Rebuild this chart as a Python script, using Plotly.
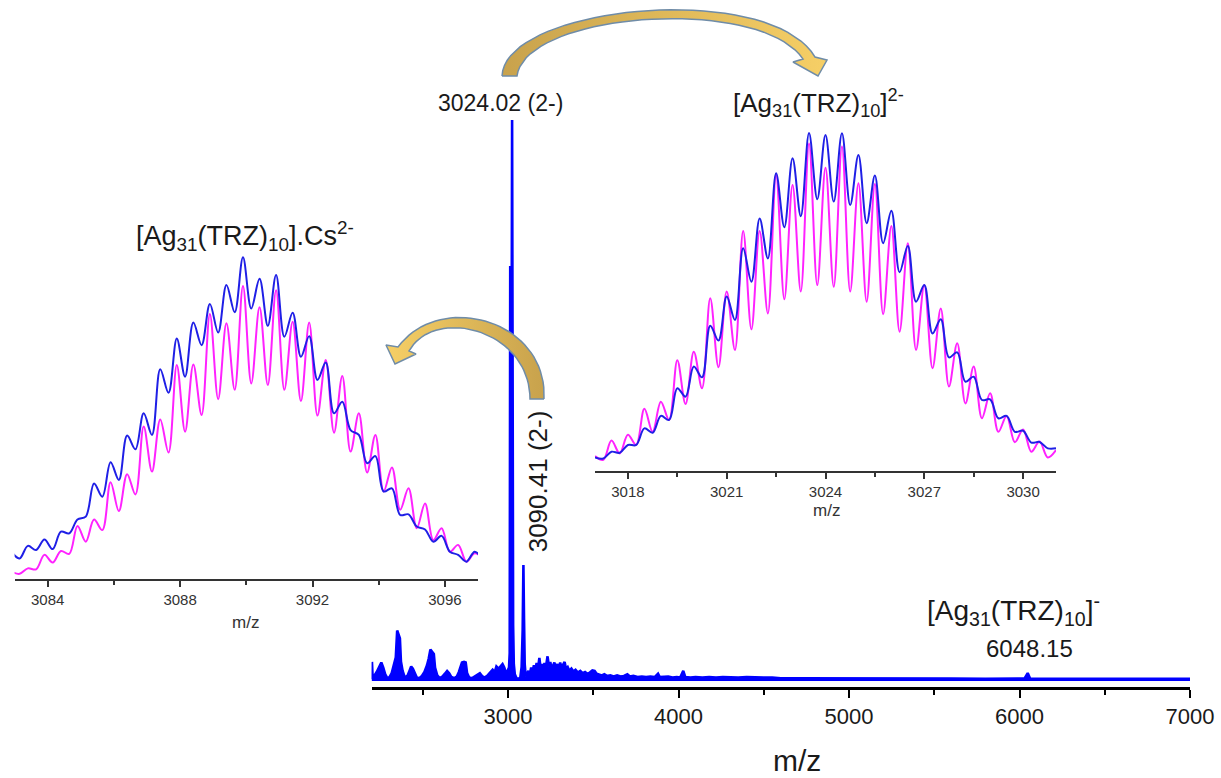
import numpy as np
import plotly.graph_objects as go

FONT = "Liberation Sans, Arial, sans-serif"
W, H = 1221, 778

# ---------------- full-range ESI spectrum ----------------
spec_mz = [2200, 2202, 2206, 2215, 2230, 2245, 2257, 2268, 2280, 2292, 2305, 2318, 2330, 2342,
           2350, 2358, 2366, 2372, 2382, 2395, 2410, 2422, 2432, 2442, 2452, 2465, 2480, 2495,
           2510, 2525, 2535, 2545, 2555, 2565, 2572, 2585, 2600, 2615, 2630, 2643, 2655, 2668,
           2685, 2700, 2712, 2722, 2730, 2742, 2752, 2760, 2772, 2790, 2805, 2820, 2835, 2848,
           2862, 2878, 2895, 2910, 2922, 2932, 2945, 2958, 2968, 2978, 2990, 3000, 3006, 3010,
           3013, 3016, 3020, 3024.02, 3027, 3030, 3034, 3040, 3050, 3062, 3072, 3080, 3086,
           3090.41, 3094, 3098, 3104, 3112, 3120, 3128, 3136, 3144, 3152, 3160, 3168, 3176,
           3184, 3190, 3198, 3206, 3214, 3222, 3232, 3240, 3248, 3256, 3264, 3272, 3280, 3290,
           3298, 3306, 3314, 3322, 3332, 3340, 3350, 3360, 3372, 3384, 3396, 3410, 3424, 3438,
           3452, 3466, 3480, 3495, 3508, 3520, 3535, 3550, 3565, 3580, 3600, 3620, 3640, 3660,
           3680, 3700, 3715, 3735, 3760, 3785, 3810, 3835, 3860, 3880, 3890, 3915, 3940, 3965,
           3990, 4010, 4028, 4040, 4070, 4100, 4140, 4180, 4220, 4260, 4300, 4350, 4400, 4450,
           4500, 4550, 4600, 4700, 4800, 4900, 5000, 5100, 5200, 5300, 5400, 5500, 5600, 5800,
           6000, 6030, 6048.15, 6062, 6100, 6500, 7000]
spec_int = [0.3, 3.4, 0.8, 0.9, 1.6, 2.6, 3.3, 2.4, 1.2, 0.5, 0.7, 1.4, 2.6, 4.2,
            9.0, 8.4, 7.6, 3.5, 1.8, 0.6, 0.9, 1.8, 2.6, 2.2, 1.4, 0.6, 0.5, 0.9,
            1.6, 2.8, 4.0, 5.6, 5.2, 4.8, 2.4, 1.0, 0.5, 0.8, 1.3, 1.8, 1.4, 0.7,
            0.5, 0.8, 1.6, 2.6, 3.3, 3.4, 3.3, 1.4, 0.6, 0.5, 0.8, 1.1, 1.4, 0.9,
            0.6, 0.9, 1.4, 2.0, 1.6, 2.6, 2.2, 2.6, 3.0, 2.4, 1.2, 2.0, 2.4, 5.0,
            74.0, 18.0, 40.0, 100.0, 48.0, 10.0, 3.0, 1.2, 0.5, 0.4, 0.6, 2.5, 9.0,
            20.7, 11.0, 3.0, 0.8, 1.2, 1.8, 1.2, 2.4, 1.6, 2.8, 2.0, 3.2, 2.2,
            4.1, 2.6, 3.0, 2.0, 3.2, 2.4, 4.4, 2.6, 3.4, 2.2, 2.8, 3.3, 2.4, 3.0,
            2.2, 3.3, 2.4, 2.9, 3.4, 2.2, 2.5, 1.8, 2.2, 1.7, 2.0, 1.5, 1.8, 1.4,
            1.6, 1.3, 1.5, 1.9, 1.8, 1.3, 1.2, 1.0, 1.2, 0.9, 1.0, 0.8, 1.0, 0.8,
            0.9, 1.2, 0.8, 0.9, 0.7, 0.8, 0.7, 0.8, 0.7, 1.3, 0.7, 0.7, 0.8, 0.6,
            0.7, 0.6, 1.8, 0.7, 0.6, 0.7, 0.6, 0.7, 0.6, 0.7, 0.6, 0.6, 0.7, 0.6,
            0.6, 0.6, 0.5, 0.5, 0.5, 0.5, 0.5, 0.5, 0.5, 0.55, 0.5, 0.55, 0.45, 0.4,
            0.4, 0.45, 1.4, 0.45, 0.4, 0.4, 0.4]

# ---------------- isotope pattern [Ag31(TRZ)10]2- ----------------
mz_2m = np.arange(3017.0, 3031.0 + 1e-9, 0.25)
exp_2m = [4.0, 3.7, 5.7, 5.4, 7.7, 7.7, 12.6, 11.3, 16.3, 15.1,
          24.5, 22.0, 30.9, 27.7, 43.0, 38.6, 51.6, 44.7, 65.9, 56.0,
          74.7, 62.9, 88.1, 72.1, 92.5, 75.4, 100.0, 80.4, 99.4, 79.7,
          99.9, 78.7, 93.5, 73.3, 87.4, 67.4, 77.0, 58.8, 66.6, 50.1,
          55.0, 40.7, 44.9, 33.6, 35.1, 26.4, 27.9, 21.0, 21.2, 15.6,
          16.3, 11.6, 11.9, 8.4, 8.6, 6.7, 6.7]
sim_2m = [4.4, 3.3, 9.0, 5.2, 10.7, 7.7, 18.4, 11.6, 20.5, 15.1,
          32.8, 19.8, 35.3, 24.5, 51.1, 30.7, 53.1, 35.8, 71.0, 41.9,
          71.0, 46.6, 87.6, 50.8, 84.6, 53.1, 96.9, 55.0, 89.7, 54.5,
          96.0, 53.1, 85.1, 50.1, 84.9, 46.4, 72.5, 41.2, 67.4, 35.8,
          55.0, 30.4, 48.1, 25.0, 37.8, 20.0, 30.9, 15.6, 23.0, 11.6,
          16.3, 8.5, 12.3, 5.7, 8.7, 4.0, 6.2]

# ---------------- isotope pattern [Ag31(TRZ)10].Cs 2- ----------------
mz_cs = np.arange(3082.9, 3097.15 + 1e-9, 0.25)
exp_cs = [8.5, 6.4, 10.3, 9.0, 12.3, 9.3, 14.7, 14.2, 18.5, 19.4,
          29.7, 25.6, 36.3, 30.8, 44.6, 40.3, 51.5, 44.8, 65.2, 57.9,
          74.8, 62.9, 79.7, 72.7, 85.5, 76.6, 91.4, 82.9, 100.0, 84.1,
          93.3, 78.7, 94.5, 75.3, 82.8, 69.1, 75.5, 61.9, 67.3, 51.5,
          55.1, 46.3, 44.8, 36.0, 38.2, 27.2, 28.2, 19.9, 20.1, 16.3,
          15.4, 11.6, 13.4, 8.5, 7.5, 5.4, 8.5, 5.9]
sim_cs = [2.3, 1.6, 3.3, 3.0, 7.5, 5.1, 8.7, 7.8, 16.5, 11.6,
          18.5, 15.2, 30.1, 21.1, 32.6, 26.3, 47.4, 33.4, 49.6, 39.3,
          66.5, 45.8, 66.7, 51.0, 82.4, 55.9, 79.5, 58.8, 91.1, 60.8,
          84.5, 60.3, 89.8, 58.8, 80.0, 55.3, 79.7, 50.8, 68.1, 45.5,
          63.1, 39.6, 51.5, 33.1, 44.8, 27.2, 34.7, 21.5, 28.2, 15.8,
          23.5, 12.1, 15.8, 8.5, 10.6, 5.4, 8.0, 6.4]

BLUE_MAIN = "#0000ff"
BLUE = "#1f1fe6"
MAGENTA = "#ff22ff"


def dom(p0, p1, size):
    """Pixel span -> paper fraction."""
    return [p0 / size, p1 / size]


def ydom(top_px, bottom_px):
    """Pixel span measured from the top -> paper fraction."""
    return [1 - bottom_px / H, 1 - top_px / H]


def bez(p0, p1, p2, p3, n=40):
    t = np.linspace(0, 1, n)
    a, b, c, d = (1 - t) ** 3, 3 * (1 - t) ** 2 * t, 3 * (1 - t) * t ** 2, t ** 3
    x = a * p0[0] + b * p1[0] + c * p2[0] + d * p3[0]
    y = a * p0[1] + b * p1[1] + c * p2[1] + d * p3[1]
    return list(x), list(y)


def arrow(outer, head, inner):
    ox, oy = bez(*outer)
    ix, iy = bez(*inner)
    hx = [p[0] for p in head]
    hy = [p[1] for p in head]
    return ox + hx + ix + [ox[0]], oy + hy + iy + [oy[0]]


fig = go.Figure()

# main spectrum
fig.add_trace(go.Scatter(x=spec_mz, y=spec_int, mode="lines",
                         line=dict(color=BLUE_MAIN, width=2.6),
                         fill="tozeroy", fillcolor=BLUE_MAIN,
                         xaxis="x", yaxis="y", hoverinfo="skip"))

# inset: [Ag31(TRZ)10]2-
fig.add_trace(go.Scatter(x=mz_2m, y=sim_2m, mode="lines", line_shape="spline",
                         line=dict(color=MAGENTA, width=2), xaxis="x2", yaxis="y2"))
fig.add_trace(go.Scatter(x=mz_2m, y=exp_2m, mode="lines", line_shape="spline",
                         line=dict(color=BLUE, width=2), xaxis="x2", yaxis="y2"))

# inset: [Ag31(TRZ)10].Cs 2-
fig.add_trace(go.Scatter(x=mz_cs, y=sim_cs, mode="lines", line_shape="spline",
                         line=dict(color=MAGENTA, width=2), xaxis="x3", yaxis="y3"))
fig.add_trace(go.Scatter(x=mz_cs, y=exp_cs, mode="lines", line_shape="spline",
                         line=dict(color=BLUE, width=2), xaxis="x3", yaxis="y3"))

# curved call-out arrows (drawn on a page-pixel overlay)
ax1, ay1 = arrow(((502, 76), (505, 5), (770, -20), (815, 57)),
                 [(827, 60), (818, 76), (793, 62), (803, 59)],
                 ((803, 59), (760, -5), (525, 12), (517, 76)))
ax2, ay2 = arrow(((544, 399), (548, 320), (440, 290), (398, 347)),
                 [(386, 345), (395, 364), (416, 354), (409, 351)],
                 ((409, 351), (435, 305), (530, 330), (530, 399)))
fig.add_trace(go.Scatter(x=ax1, y=ay1, mode="lines", fill="toself",
                         line=dict(color="#6f8ca8", width=1.5),
                         fillgradient=dict(type="horizontal",
                                           colorscale=[[0, "#c8a24c"], [1, "#f6cf66"]]),
                         xaxis="x4", yaxis="y4"))
fig.add_trace(go.Scatter(x=ax2, y=ay2, mode="lines", fill="toself",
                         line=dict(color="#6f8ca8", width=1.5),
                         fillgradient=dict(type="horizontal",
                                           colorscale=[[0, "#f6cf66"], [1, "#c8a24c"]]),
                         xaxis="x4", yaxis="y4"))

inset_axis = dict(showline=True, linecolor="#333333", linewidth=1.5,
                  ticks="outside", ticklen=6, tickwidth=1.5, tickcolor="#333333",
                  showgrid=False, zeroline=False, automargin=False,
                  tickfont=dict(family=FONT, size=15, color="#333333"))
hidden = dict(visible=False, automargin=False, showgrid=False, zeroline=False)

fig.update_layout(
    template="none",
    width=W, height=H, margin=dict(l=0, r=0, t=0, b=0, pad=0),
    paper_bgcolor="white", plot_bgcolor="rgba(0,0,0,0)",
    showlegend=False, hovermode=False,
    xaxis=dict(domain=dom(371.6, 1190, W), range=[2200, 7000], anchor="y",
               showline=True, linecolor="black", linewidth=3,
               ticks="outside", ticklen=8, tickwidth=2, tickcolor="black",
               tick0=0, dtick=1000,
               minor=dict(dtick=500, tick0=0, ticks="outside", ticklen=5,
                          tickwidth=2, tickcolor="black"),
               showgrid=False, zeroline=False, automargin=False,
               tickfont=dict(family=FONT, size=22, color="#1a1a1a")),
    yaxis=dict(domain=ydom(110, 687), range=[-1.07, 101.8], anchor="x", **hidden),
    xaxis2=dict(domain=dom(595, 1056, W), range=[3017, 3031], anchor="y2",
                tick0=3018, dtick=3,
                minor=dict(dtick=1.5, tick0=3018, ticks="outside", ticklen=4,
                           tickwidth=1.5, tickcolor="#333333"),
                **inset_axis),
    yaxis2=dict(domain=ydom(129.6, 471), range=[0, 101], anchor="x2", **hidden),
    xaxis3=dict(domain=dom(14.6, 478, W), range=[3083, 3097], anchor="y3",
                tick0=3084, dtick=4,
                minor=dict(dtick=2, tick0=3084, ticks="outside", ticklen=4,
                           tickwidth=1.5, tickcolor="#333333"),
                **inset_axis),
    yaxis3=dict(domain=ydom(254.1, 579), range=[0, 101], anchor="x3", **hidden),
    xaxis4=dict(domain=[0, 1], range=[0, W], anchor="y4", **hidden),
    yaxis4=dict(domain=[0, 1], range=[H, 0], anchor="x4", **hidden),
)

TXT = "#1a1a1a"
ann = [
    # peak labels on the full spectrum
    dict(x=3024.02, y=100.0, xref="x", yref="y", text="3024.02 (2-)",
         xanchor="center", yanchor="bottom", xshift=-12, yshift=2,
         font=dict(family=FONT, size=23, color=TXT)),
    dict(x=3090.41, y=20.7, xref="x", yref="y", text="3090.41 (2-)", textangle=-90,
         xanchor="center", yanchor="middle", xshift=14, yshift=84,
         font=dict(family=FONT, size=26, color=TXT)),
    dict(x=6048.15, y=1.4, xref="x", yref="y", text="6048.15",
         xanchor="center", yanchor="bottom", xshift=2, yshift=9,
         font=dict(family=FONT, size=24, color=TXT)),
    dict(x=1013, y=610, xref="x4", yref="y4",
         text="[Ag<sub>31</sub>(TRZ)<sub>10</sub>]<sup>-</sup>",
         xanchor="center", yanchor="middle", font=dict(family=FONT, size=28, color=TXT)),
    # inset titles
    dict(x=818, y=103, xref="x4", yref="y4",
         text="[Ag<sub>31</sub>(TRZ)<sub>10</sub>]<sup>2-</sup>",
         xanchor="center", yanchor="middle", font=dict(family=FONT, size=26, color=TXT)),
    dict(x=245, y=236, xref="x4", yref="y4",
         text="[Ag<sub>31</sub>(TRZ)<sub>10</sub>].Cs<sup>2-</sup>",
         xanchor="center", yanchor="middle", font=dict(family=FONT, size=27, color=TXT)),
    # axis titles
    dict(x=797, y=760, xref="x4", yref="y4", text="m/z", xanchor="center", yanchor="middle",
         font=dict(family=FONT, size=30, color=TXT)),
    dict(x=826, y=510, xref="x4", yref="y4", text="m/z", xanchor="center", yanchor="middle",
         font=dict(family=FONT, size=17, color="#333333")),
    dict(x=245, y=622, xref="x4", yref="y4", text="m/z", xanchor="center", yanchor="middle",
         font=dict(family=FONT, size=17, color="#333333")),
]
for a in ann:
    a.setdefault("showarrow", False)
fig.update_layout(annotations=ann)

fig.write_html("out.html")
